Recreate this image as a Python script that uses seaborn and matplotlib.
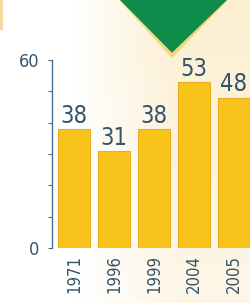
import numpy as np
import pandas as pd
import matplotlib
matplotlib.use("Agg")
import matplotlib.pyplot as plt
from matplotlib.patches import Polygon, Rectangle
import seaborn as sns

years = ["1971", "1996", "1999", "2004", "2005"]
values = [38, 31, 38, 53, 48]
ytick_labels = ["0", "60"]

sns.set_style("white")
plt.rcParams['font.family'] = ['DejaVu Sans']
plt.rcParams['font.stretch'] = 'condensed'

TXT = "#34546C"
BAR = "#F8C41C"
EDGE = "#E8B020"

fig = plt.figure(figsize=(2.5, 3.03), dpi=100)
fig.patch.set_facecolor("white")

# background tint
bg = fig.add_axes([0, 0, 1, 1], zorder=0)
xx = np.linspace(0, 1, 250)
yy = np.linspace(0, 1, 303)
X, Y = np.meshgrid(xx, yy)
t = np.clip((X - 0.3) / 0.4, 0, 1) * (0.45 + 0.45 * Y)
c0 = np.array([1.0, 1.0, 1.0])
c1 = np.array([0.99, 0.93, 0.80])
img = c0[None, None, :] * (1 - t[..., None]) + c1[None, None, :] * t[..., None]
bg.imshow(img, origin="lower", extent=[0, 1, 0, 1], aspect="auto")
bg.set_xlim(0, 1)
bg.set_ylim(0, 1)
bg.axis("off")

# decorative shapes
bg.add_patch(Rectangle((0, 0.9), 0.012, 0.1, transform=fig.transFigure,
                       facecolor="#F8D9A0", edgecolor="none"))
glow = Polygon([(0.455, 1.02), (0.935, 1.02), (0.688, 0.808)], closed=True,
               transform=fig.transFigure, facecolor="#F7D470", edgecolor="none", alpha=0.9)
tri = Polygon([(0.48, 1.0), (0.908, 1.0), (0.688, 0.826)], closed=True,
              transform=fig.transFigure, facecolor="#0F8C4C", edgecolor="none")
bg.add_patch(glow)
bg.add_patch(tri)

ax = fig.add_axes([0.208, 0.1815, 0.792, 0.620], zorder=1)
ax.patch.set_alpha(0)
df = pd.DataFrame({"year": years, "value": values})
sns.barplot(data=df, x="year", y="value", color=BAR, saturation=1, width=0.8,
            edgecolor=EDGE, linewidth=0.8, ax=ax)
for cont in ax.containers:
    ax.bar_label(cont, fmt="%d", padding=1, fontsize=17, color=TXT, fontstretch="condensed")

ax.set_xlim(-0.55, 4.4)
ax.set_ylim(0, 60)
ax.set_xlabel("")
ax.set_ylabel("")
for s in ["top", "right", "bottom"]:
    ax.spines[s].set_visible(False)
ax.spines["left"].set_color("#4A6F8C")
ax.spines["left"].set_linewidth(1.0)
ax.set_yticks(range(0, 61, 10))
ax.set_yticklabels([ytick_labels[0], "", "", "", "", "", ytick_labels[1]])
ax.tick_params(axis="y", direction="out", length=3, width=0.8, color="#4A6F8C",
               labelsize=13, labelcolor=TXT, pad=6, left=True)
ax.tick_params(axis="x", length=0, labelsize=12, labelcolor=TXT, pad=5, rotation=90)
for lab in ax.get_xticklabels() + ax.get_yticklabels():
    lab.set_fontstretch("condensed")

fig.savefig("out.png", dpi=100)
